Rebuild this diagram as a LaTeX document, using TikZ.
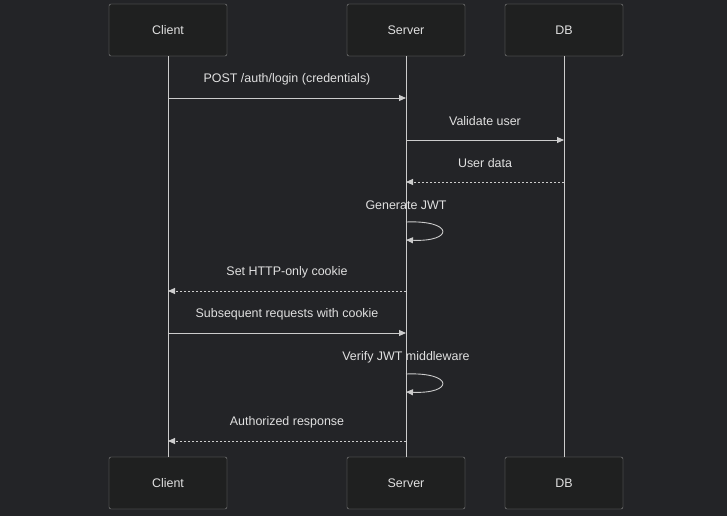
\documentclass[tikz,border=0pt]{standalone}
\usepackage{fontspec}
\setmainfont{Liberation Sans}
\usetikzlibrary{arrows.meta}
\definecolor{bgcol}{HTML}{232427}
\definecolor{boxfill}{HTML}{1F2020}
\definecolor{boxline}{HTML}{8C8C8C}
\definecolor{linecol}{HTML}{CCCCCC}
\definecolor{txtcol}{HTML}{E0E0E0}

\begin{document}
\begin{tikzpicture}[x=1bp,y=-1bp]
    \tikzset{actor/.style = {shape=rectangle, draw=boxline, fill=boxfill, rounded corners=2bp, minimum width=118bp, minimum height=52bp, text=txtcol, font=\fontsize{12.5}{14}\selectfont}}
    \tikzset{life/.style = {draw=linecol, line width=0.9bp}}
    \tikzset{msg/.style = {draw=linecol, line width=0.9bp, -{Triangle[length=7bp,width=6bp]}}}
    \tikzset{reply/.style = {msg, dash pattern=on 2bp off 2bp}}
    \tikzset{lbl/.style = {text=txtcol, font=\fontsize{12.5}{14}\selectfont, yshift=19bp}}

    \fill[bgcol] (0,0) rectangle (727,516);

    % actors
    \node[actor] (clientTop) at (168,30) {Client};
    \node[actor] (serverTop) at (406,30) {Server};
    \node[actor] (dbTop) at (564,30) {DB};
    \node[actor] (clientBot) at (168,483) {Client};
    \node[actor] (serverBot) at (406,483) {Server};
    \node[actor] (dbBot) at (564,483) {DB};

    % lifelines
    \draw[life] (clientTop) -- (clientBot);
    \draw[life] (serverTop) -- (serverBot);
    \draw[life] (dbTop) -- (dbBot);

    % message points
    \coordinate (c1) at (168,98);  \coordinate (s1) at (406,98);
    \coordinate (s2) at (406,140); \coordinate (d2) at (564,140);
    \coordinate (d3) at (564,182); \coordinate (s3) at (406,182);
    \coordinate (s4a) at (406,222); \coordinate (s4b) at (406,240);
    \coordinate (s5) at (406,291); \coordinate (c5) at (168,291);
    \coordinate (c6) at (168,333); \coordinate (s6) at (406,333);
    \coordinate (s7a) at (406,374); \coordinate (s7b) at (406,392);
    \coordinate (s8) at (406,441); \coordinate (c8) at (168,441);

    % messages
    \draw[msg] (c1) -- node[lbl]{POST /auth/login (credentials)} (s1);
    \draw[msg] (s2) -- node[lbl]{Validate user} (d2);
    \draw[reply] (d3) -- node[lbl]{User data} (s3);
    \draw[msg] (s4a) .. controls +(48,-2) and +(48,2) .. (s4b);
    \node[lbl] (gen) at (s4a) [yshift=-2bp] {Generate JWT};
    \draw[reply] (s5) -- node[lbl]{Set HTTP-only cookie} (c5);
    \draw[msg] (c6) -- node[lbl]{Subsequent requests with cookie} (s6);
    \draw[msg] (s7a) .. controls +(48,-2) and +(48,2) .. (s7b);
    \node[lbl] (ver) at (s7a) [yshift=-2bp] {Verify JWT middleware};
    \draw[reply] (s8) -- node[lbl]{Authorized response} (c8);
\end{tikzpicture}
\end{document}
